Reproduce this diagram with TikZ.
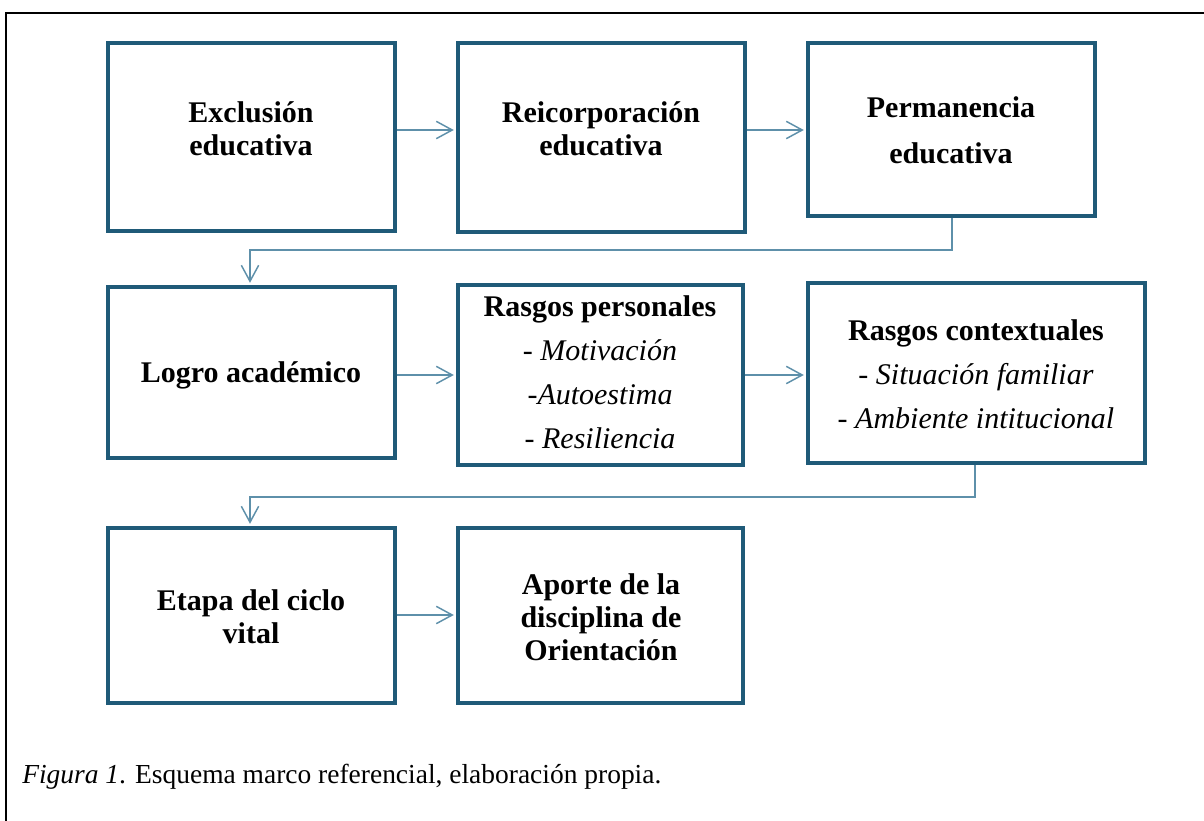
\documentclass[tikz,border=0pt]{standalone}
\usepackage{fontspec}
\setmainfont{Liberation Serif}
\usetikzlibrary{arrows.meta,fit}
\definecolor{boxc}{HTML}{1F5A78}
\definecolor{arrc}{HTML}{5E90AA}
\begin{document}
\begin{tikzpicture}[x=0.75pt,y=-0.75pt,
  box/.style={draw=boxc,line width=2.3pt,inner sep=0pt},
  txt/.style={align=center,font=\fontsize{22.5}{24.75}\selectfont\bfseries},
  txtb/.style={align=center,font=\fontsize{22.5}{33}\selectfont},
  arr/.style={draw=arrc,line width=1.1pt,-{Straight Barb[length=12pt,width=13pt,line width=1.1pt]}},
  ln/.style={draw=arrc,line width=1.1pt}]
\useasboundingbox (0,0) rectangle (1204,821);
\draw[line width=2pt] (6,830) -- (6,13) -- (1210,13);
% row 1
\node[box,fit={(108,43) (395,231)}] (b1) {};
\node[box,fit={(458,43) (745,232)}] (b2) {};
\node[box,fit={(808,43) (1095,216)}] (b3) {};
% row 2
\node[box,fit={(108,287) (395,458)}] (b4) {};
\node[box,fit={(458,285) (743,465)}] (b5) {};
\node[box,fit={(808,283) (1145,463)}] (b6) {};
% row 3
\node[box,fit={(108,528) (395,703)}] (b7) {};
\node[box,fit={(458,528) (743,703)}] (b8) {};
% texts
\node[txt] (t1) at (251,129) {Exclusión\\educativa};
\node[txt] (t2) at (601,129) {Reicorporación\\educativa};
\node[txt,font=\fontsize{22.5}{34.5}\selectfont\bfseries] (t3) at (951,130) {Permanencia\\educativa};
\node[txt] (t4) at (251,375) {Logro académico};
\node[txtb] (t5) at (600,372) {\textbf{Rasgos personales}\\- \textit{Motivación}\\\textit{-Autoestima}\\- \textit{Resiliencia}};
\node[txtb] (t6) at (976,374) {\textbf{Rasgos contextuales}\\- \textit{Situación familiar}\\- \textit{Ambiente intitucional}};
\node[txt] (t7) at (251,617) {Etapa del ciclo\\vital};
\node[txt] (t8) at (601,617) {Aporte de la\\disciplina de\\Orientación};
% arrows
\coordinate (r1) at (0,130);
\coordinate (r2) at (0,375);
\coordinate (r3) at (0,615);
\draw[arr] (b1.east |- r1) -- ([xshift=-2pt]b2.west |- r1);
\draw[arr] (b2.east |- r1) -- ([xshift=-2pt]b3.west |- r1);
\draw[arr] (b4.east |- r2) -- ([xshift=-2pt]b5.west |- r2);
\draw[arr] (b5.east |- r2) -- ([xshift=-2pt]b6.west |- r2);
\draw[arr] (b7.east |- r3) -- ([xshift=-2pt]b8.west |- r3);
\coordinate (c1) at (952,250);
\coordinate (c2) at (975,497);
\draw[arr] (b3.south -| c1) -- (c1) -- (c1 -| 250,0) -- ([yshift=2pt]b4.north -| 250,0);
\draw[arr] (b6.south -| c2) -- (c2) -- (c2 -| 250,0) -- ([yshift=2pt]b7.north -| 250,0);
% caption
\node[anchor=base west,font=\fontsize{20.6}{24}\selectfont,inner sep=0pt] (cap) at (22,783) {\textit{Figura 1}. Esquema marco referencial, elaboración propia.};
\end{tikzpicture}
\end{document}
